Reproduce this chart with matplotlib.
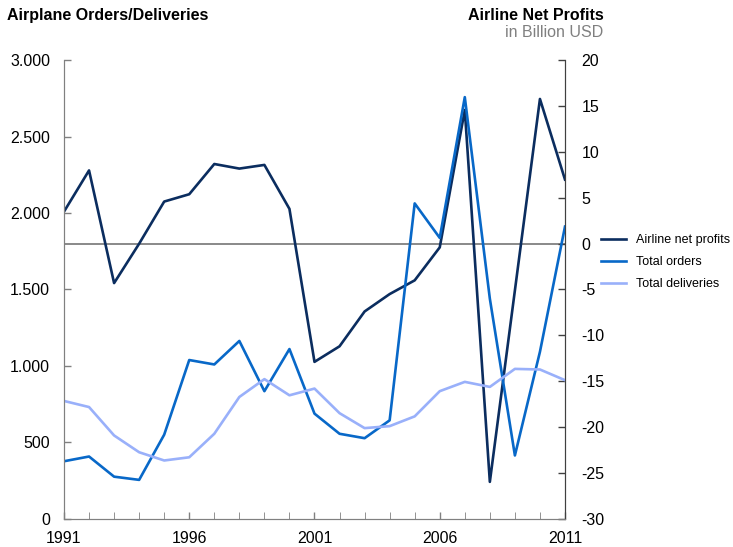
import matplotlib.pyplot as plt
from matplotlib.ticker import FuncFormatter, MultipleLocator

plt.rcParams['font.family'] = ['Liberation Sans', 'DejaVu Sans']
plt.rcParams['axes.unicode_minus'] = False

years = list(range(1991, 2012))
net_profits = [3.5, 8.0, -4.3, 0.0, 4.6, 5.4, 8.7, 8.2, 8.6, 3.8,
               -12.9, -11.2, -7.4, -5.5, -4.0, -0.4, 14.6, -26.0, -5.1, 15.8, 7.0]
total_orders = [375, 406, 274, 253, 549, 1038, 1009, 1163, 834, 1110,
                687, 555, 526, 643, 2064, 1838, 2760, 1440, 413, 1092, 1912]
total_deliveries = [770, 730, 544, 434, 380, 401, 555, 796, 913, 807,
                    851, 690, 592, 605, 669, 834, 895, 862, 980, 976, 906]

C_PROFIT = '#0b2d5f'
C_ORDERS = '#0868c8'
C_DELIV = '#99b0fa'
GREY = '#808080'

fig = plt.figure(figsize=(7.33, 5.47), dpi=100)
ax = fig.add_axes([0.0873, 0.0521, 0.6835, 0.8373])
ax2 = ax.twinx()

# orders / deliveries on the left axis
l_orders, = ax.plot(years, total_orders, color=C_ORDERS, lw=1.9, label='Total orders')
l_deliv, = ax.plot(years, total_deliveries, color=C_DELIV, lw=1.9, label='Total deliveries')
ax.set_ylim(0, 3000)
ax.set_xlim(1991, 2011)
ax.yaxis.set_major_locator(MultipleLocator(500))
ax.yaxis.set_major_formatter(FuncFormatter(lambda v, p: f'{int(v):,}'.replace(',', '.')))
ax.set_xticks([1991, 1996, 2001, 2006, 2011])
ax.set_xticks(years, minor=True)

# profits on the right axis
ax2.axhline(0, color=GREY, lw=1.3, zorder=1)
l_profit, = ax2.plot(years, net_profits, color=C_PROFIT, lw=1.9, label='Airline net profits')
ax2.set_ylim(-30, 20)
ax2.yaxis.set_major_locator(MultipleLocator(5))
ax.set_zorder(ax2.get_zorder() + 1)
ax.patch.set_visible(False)

for a in (ax, ax2):
    a.spines['top'].set_visible(False)
    a.spines['left'].set_color(GREY)
    a.spines['bottom'].set_color(GREY)
    a.spines['right'].set_color('#404040')
    a.tick_params(direction='in', length=5, width=1, colors=GREY, labelcolor='black',
                  labelsize=11.5)
ax.tick_params(axis='x', which='minor', direction='in', length=5, colors=GREY)
ax.tick_params(axis='y', pad=10)
ax.tick_params(axis='x', pad=9)
ax2.tick_params(axis='y', colors='#404040', labelcolor='black', pad=12)

fig.text(0.01, 0.972, 'Airplane Orders/Deliveries', fontsize=11.5, fontweight='bold',
         ha='left', va='center')
fig.text(0.823, 0.972, 'Airline Net Profits', fontsize=11.5, fontweight='bold',
         ha='right', va='center')
fig.text(0.823, 0.94, 'in Billion USD', fontsize=11.5, color=GREY,
         ha='right', va='center')

fig.legend(handles=[l_profit, l_orders, l_deliv], loc='upper left',
           bbox_to_anchor=(0.805, 0.592), frameon=False, fontsize=9,
           handlelength=2.0, handletextpad=0.8, labelspacing=0.8)

fig.savefig('out.png', dpi=100)
